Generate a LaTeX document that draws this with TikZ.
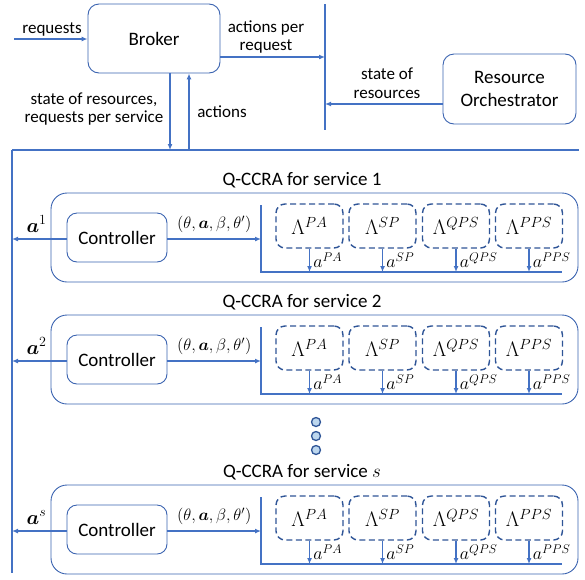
\RequirePackage{fix-cm}
\documentclass[tikz,border=0pt]{standalone}
\usepackage{amsmath,bm}
\usepackage{fontspec}
\setmainfont{Carlito}
\usetikzlibrary{arrows.meta}
\definecolor{lineblue}{HTML}{4472C4}
\definecolor{boxblue}{HTML}{3A63B0}
\definecolor{darkblue}{HTML}{2F5597}
\definecolor{dotfill}{HTML}{BDD7EE}
\newcommand{\lblfont}{\fontsize{17}{18.5}\selectfont}
\newcommand{\boxfont}{\fontsize{19}{23}\selectfont}

\begin{document}
\begin{tikzpicture}[x=1pt,y=-1pt,>={Latex[length=6pt,width=5pt]},line width=1.3pt,
   box/.style={draw=boxblue,line width=0.9pt,rounded corners=11pt,align=center,inner sep=0pt,font=\boxfont},
   lam/.style={draw=darkblue,line width=1.4pt,dash pattern=on 6pt off 3.5pt,rounded corners=9pt,
               minimum width=67pt,minimum height=44pt,inner sep=0pt,font=\fontsize{21}{24}\selectfont},
   txt/.style={align=center,font=\lblfont,inner sep=0pt}]
   \useasboundingbox (0,0) rectangle (585,579);
   \node (broker) at (154,38.5) [box,minimum width=132pt,minimum height=69pt] {Broker};
   \node (ro) at (509.5,89) [box,minimum width=133pt,minimum height=70pt] {Resource\\Orchestrator};
   \coordinate (vt) at (325,4);
   \coordinate (vb) at (325,130);
   \coordinate (hl) at (12,150);
   \coordinate (hr) at (579,150);
   \coordinate (lb) at (12,573);
   \coordinate (req) at (14,39);
   \draw[lineblue] (vt) -- (vb);
   \draw[lineblue] (hl) -- (hr);
   \draw[lineblue] (hl) -- (lb);
   \draw[->,lineblue] (req) -- (req -| broker.west);
   \node at (52,29) [txt] {requests};
   \draw[->,lineblue] ([yshift=-18.5pt]broker.east) coordinate (bo) -- (bo -| vt);
   \node at (266,37) [txt] {actions per\\request};
   \draw[->,lineblue] ([yshift=-15pt]ro.west) coordinate (ri) -- (ri -| vt);
   \node at (387,83) [txt] {state of\\resources};
   \draw[->,lineblue] ([xshift=16pt]broker.south) coordinate (bd) -- (bd |- hl);
   \draw[<-,lineblue] ([xshift=35pt]broker.south) coordinate (bu) -- (bu |- hl);
   \node at (94,109) [txt] {state of resources,\\requests per service};
   \node at (222,112) [txt] {actions};
   \foreach \dy/\k/\t in {0/1/1,122/2/2,292/s/$s$} {
      \node (title\k) at (302,180+\dy) [txt,font=\fontsize{19}{21}\selectfont] {Q-CCRA for service \t};
      \node (svc\k) at (314.5,237.5+\dy) [box,rounded corners=16pt,minimum width=527pt,minimum height=89pt] {};
      \node (ctrl\k) at (117,237.5+\dy) [box,rounded corners=10pt,minimum width=100pt,minimum height=49pt] {Controller};
      \coordinate (out\k) at (12,239+\dy);
      \coordinate (top\k) at (261,205+\dy);
      \coordinate (cor\k) at (261,272+\dy);
      \coordinate (end\k) at (562,272+\dy);
      \draw[->,lineblue] ([yshift=-1.5pt]ctrl\k.west) -- (out\k) node[pos=0.55,above=3pt,font=\fontsize{20}{22}\selectfont,text=black] {$\bm{a}^{\k}$};
      \draw[->,lineblue] ([yshift=-1.5pt]ctrl\k.east) -- (out\k -| top\k) node[midway,above=2pt,font=\fontsize{16.5}{18}\selectfont,text=black] {$(\theta,\bm{a},\beta,\theta')$};
      \draw[lineblue] (top\k) -- (cor\k) -- (end\k);
      \node (pa\k) at (309.5,226+\dy) [lam] {$\Lambda^{PA}$};
      \node (sp\k) at (382.5,226+\dy) [lam] {$\Lambda^{SP}$};
      \node (qps\k) at (456,226+\dy) [lam] {$\Lambda^{QPS}$};
      \node (pps\k) at (529,226+\dy) [lam] {$\Lambda^{PPS}$};
      \foreach \n/\s in {pa/PA,sp/SP,qps/QPS,pps/PPS} {
         \draw[->,lineblue] (\n\k.south) -- (\n\k.south |- cor\k) node[pos=0.5,right=0pt,font=\fontsize{18}{20}\selectfont,text=black] {$a^{\s}$};
      }
   }
   \foreach \y [count=\i] in {422,436,450}
      \node (dot\i) at (316,\y) [circle,draw=darkblue,fill=dotfill,line width=1.3pt,minimum size=9pt,inner sep=0pt] {};
\end{tikzpicture}
\end{document}
